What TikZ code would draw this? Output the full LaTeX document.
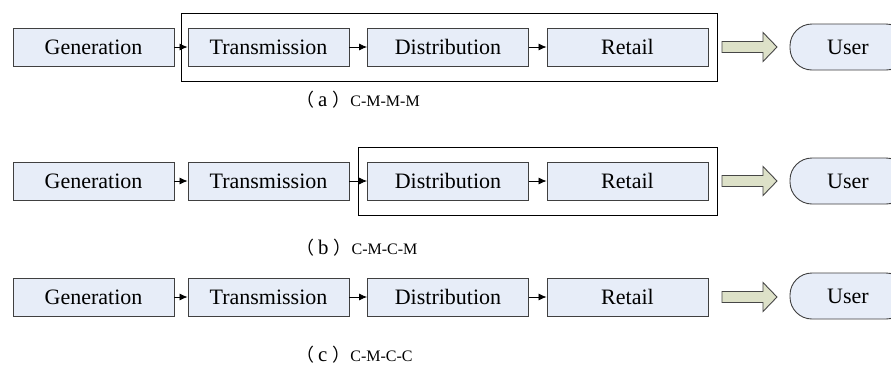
\documentclass[tikz,border=0pt]{standalone}
\usepackage{fontspec}
\usepackage{graphicx}
\setmainfont{Liberation Serif}
\newfontfamily\tnr{Liberation Serif}
\newfontfamily\cjk{Noto Sans CJK SC}
\usetikzlibrary{arrows.meta,calc}
\definecolor{boxfill}{RGB}{231,237,248}
\definecolor{boxline}{RGB}{64,64,64}
\definecolor{arrfill}{RGB}{221,225,200}
\definecolor{arrline}{RGB}{70,70,70}
\newcommand{\bigtxt}[1]{\scalebox{1.375}{\tnr\fontsize{16}{19}\selectfont #1}}
\tikzset{
  stage/.style={draw=boxline, line width=0.9pt, fill=boxfill, rectangle,
    minimum width=161pt, minimum height=38pt, inner sep=0pt},
  usr/.style={draw=boxline, line width=0.9pt, fill=boxfill, rectangle,
    rounded corners=22pt, minimum width=118pt, minimum height=46pt, inner sep=0pt},
  usrtext/.style={inner sep=0pt},
  frame/.style={draw=black, line width=0.9pt},
  link/.style={draw=black, line width=0.8pt, -{Latex[length=8pt,width=7pt]}},
  bigarr/.style={draw=arrline, line width=0.9pt, fill=arrfill, line join=miter},
  captionlbl/.style={anchor=base west, inner sep=0pt}
}
\newcommand{\captxt}[2]{{\fontsize{18}{20}\cjk （}\kern4pt\scalebox{1.3}{\tnr\fontsize{16}{19}\selectfont #1}\kern5pt{\fontsize{18}{20}\cjk ）}{\tnr\fontsize{16}{19}\selectfont #2}}
\newcommand{\bigarrow}[1]{%
  \path[bigarr] ($(#1)+(722,-5.5)$) -- ($(#1)+(763,-5.5)$) -- ($(#1)+(763,-14.5)$)
    -- ($(#1)+(777,0)$) -- ($(#1)+(763,14.5)$) -- ($(#1)+(763,5.5)$)
    -- ($(#1)+(722,5.5)$) -- cycle;}
\begin{document}
\begin{tikzpicture}[x=1pt,y=-1pt]
\useasboundingbox (0,0) rectangle (891,365);
\clip (0,0) rectangle (891,365);
\fill[white] (0,0) rectangle (891,365);
% ---------- row (a)
\coordinate (ya) at (0,47);
\draw[frame] (181,13) rectangle (717,81);
\node[stage] (ga) at (93.5,47) {\bigtxt{Generation}};
\node[stage] (ta) at (268.5,47) {\bigtxt{Transmission}};
\node[stage] (da) at (448,47) {\bigtxt{Distribution}};
\node[stage] (ra) at (627.5,47) {\bigtxt{Retail}};
\node[usr] (ua) at (849,47) {};
\node[usrtext] (uta) at (848,47) {\bigtxt{User}};
\draw[link] (ga) -- (ta);
\draw[link] (ta) -- (da);
\draw[link] (da) -- (ra);
\bigarrow{ya}
\node[captionlbl] (capa) at (296,106) {\captxt{a}{C-M-M-M}};
% ---------- row (b)
\coordinate (yb) at (0,181);
\draw[frame] (358,147) rectangle (717,215);
\node[stage] (gb) at (93.5,181) {\bigtxt{Generation}};
\node[stage] (tb) at (268.5,181) {\bigtxt{Transmission}};
\node[stage] (db) at (448,181) {\bigtxt{Distribution}};
\node[stage] (rb) at (627.5,181) {\bigtxt{Retail}};
\node[usr] (ub) at (849,181) {};
\node[usrtext] (utb) at (848,181) {\bigtxt{User}};
\draw[link] (gb) -- (tb);
\draw[link] (tb) -- (db);
\draw[link] (db) -- (rb);
\bigarrow{yb}
\node[captionlbl] (capb) at (296,254) {\captxt{b}{C-M-C-M}};
% ---------- row (c)
\coordinate (yc) at (0,297);
\node[stage] (gc) at (93.5,297) {\bigtxt{Generation}};
\node[stage] (tc) at (268.5,297) {\bigtxt{Transmission}};
\node[stage] (dc) at (448,297) {\bigtxt{Distribution}};
\node[stage] (rc) at (627.5,297) {\bigtxt{Retail}};
\node[usr] (uc) at (849,296) {};
\node[usrtext] (utc) at (848,296) {\bigtxt{User}};
\draw[link] (gc) -- (tc);
\draw[link] (tc) -- (dc);
\draw[link] (dc) -- (rc);
\bigarrow{yc}
\node[captionlbl] (capc) at (296,361.5) {\captxt{c}{C-M-C-C}};
\end{tikzpicture}
\end{document}
